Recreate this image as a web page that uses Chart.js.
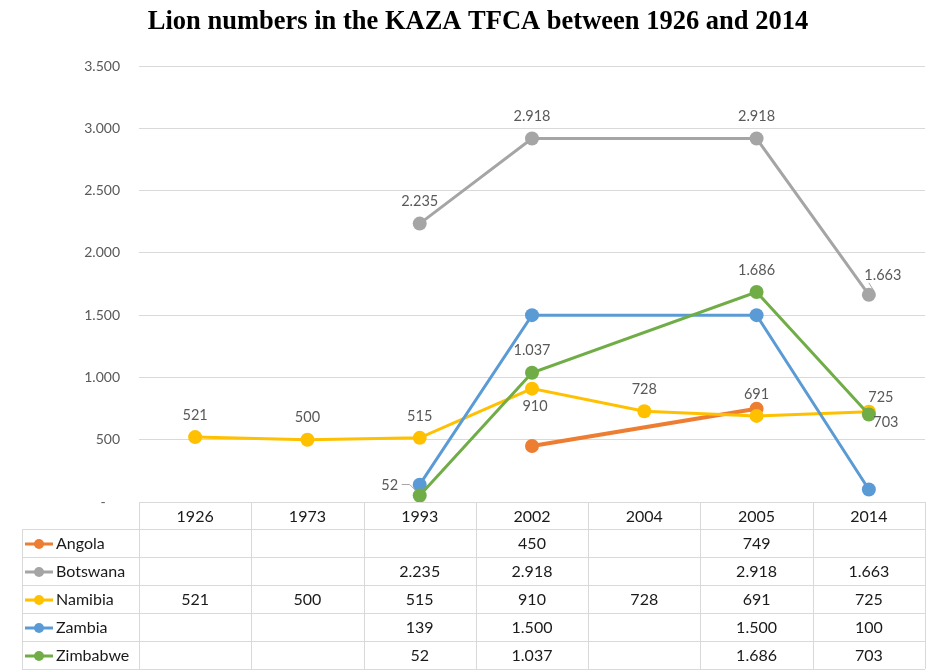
<!DOCTYPE html>
<html>
<head>
<meta charset="utf-8">
<script src="https://cdn.jsdelivr.net/npm/chart.js@4/dist/chart.umd.min.js"></script>
<style>
  html, body { margin: 0; padding: 0; background: #fff; }
  #wrap { width: 928px; height: 670px; }
</style>
</head>
<body>
<div id="wrap"><canvas id="chart" width="928" height="670"></canvas></div>
<script>
  // data
  const years = ["1926", "1973", "1993", "2002", "2004", "2005", "2014"];
  const angola = [null, null, null, 450, null, 749, null];
  const botswana = [null, null, 2235, 2918, null, 2918, 1663];
  const namibia = [521, 500, 515, 910, 728, 691, 725];
  const zambia = [null, null, 139, 1500, null, 1500, 100];
  const zimbabwe = [null, null, 52, 1037, null, 1686, 703];
  const yTicks = [0, 500, 1000, 1500, 2000, 2500, 3000, 3500];

  // where each point label sits relative to its marker: [dx, dy, leaderLine]
  const labelSpots = {
    Botswana: [null, null, [0, -22], [0, -22], null, [0, -22], [14, -20, true]],
    Namibia: [[0, -22], [0, -22], [0, -22], [3, 18], [0, -22], [0, -22], [12, -14]],
    Zimbabwe: [null, null, [-30, -10, true], [0, -22], null, [0, -22], [17, 8]],
  };

  const fontFam = "Lato, 'Open Sans', sans-serif";
  const grey = "#595959";

  function fmt(v) {
    if (v === null || v === undefined) return "";
    return String(v).replace(/\B(?=(\d{3})+(?!\d))/g, ".");
  }

  function series(label, data, color, order, width) {
    return {
      label,
      data,
      borderColor: color,
      backgroundColor: color,
      pointBackgroundColor: color,
      pointBorderColor: color,
      borderWidth: width || 3,
      pointRadius: 7,
      pointHoverRadius: 7,
      pointBorderWidth: 0,
      spanGaps: true,
      tension: 0,
      order,
    };
  }

  const pointLabels = {
    id: "pointLabels",
    afterDatasetsDraw(chart) {
      const ctx = chart.ctx;
      ctx.save();
      ctx.font = "14.5px " + fontFam;
      ctx.fillStyle = grey;
      ctx.textAlign = "center";
      ctx.textBaseline = "middle";
      chart.data.datasets.forEach((ds, di) => {
        const spots = labelSpots[ds.label];
        if (!spots) return;
        const meta = chart.getDatasetMeta(di);
        spots.forEach((s, i) => {
          if (!s || ds.data[i] === null) return;
          const pt = meta.data[i];
          const tx = pt.x + s[0];
          const ty = pt.y + s[1];
          ctx.fillText(fmt(ds.data[i]), tx, ty);
          if (s[2]) {
            ctx.strokeStyle = "#a6a6a6";
            ctx.lineWidth = 1;
            ctx.beginPath();
            if (s[0] < 0) {
              ctx.moveTo(tx + 12, ty - 1);
              ctx.lineTo(tx + 20, ty - 1);
              ctx.lineTo(pt.x - 4, pt.y - 5);
            } else {
              ctx.moveTo(tx - 14, ty + 8);
              ctx.lineTo(pt.x + 5, pt.y - 4);
            }
            ctx.stroke();
          }
        });
      });
      ctx.restore();
    },
  };

  const dataTable = {
    id: "dataTable",
    afterDraw(chart) {
      const ctx = chart.ctx;
      const xs = chart.scales.x;
      const area = chart.chartArea;
      const colW = (area.right - area.left) / years.length;
      const top = area.bottom;
      const headH = 27;
      const rowH = 28;
      const labelLeft = 22;
      const rows = [
        ["Angola", angola, "#ED7D31"],
        ["Botswana", botswana, "#A5A5A5"],
        ["Namibia", namibia, "#FFC000"],
        ["Zambia", zambia, "#5B9BD5"],
        ["Zimbabwe", zimbabwe, "#70AD47"],
      ];
      const bottom = top + headH + rowH * rows.length;

      ctx.save();
      ctx.strokeStyle = "#D9D9D9";
      ctx.lineWidth = 1;
      ctx.beginPath();
      // vertical lines of the year columns
      for (let i = 0; i <= years.length; i++) {
        const x = Math.round(area.left + colW * i) + 0.5;
        ctx.moveTo(x, top);
        ctx.lineTo(x, bottom);
      }
      // left edge of the series label column
      ctx.moveTo(labelLeft + 0.5, top + headH);
      ctx.lineTo(labelLeft + 0.5, bottom);
      // header bottom and row lines
      for (let r = 0; r <= rows.length; r++) {
        const y = Math.round(top + headH + rowH * r) + 0.5;
        ctx.moveTo(labelLeft, y);
        ctx.lineTo(area.right, y);
      }
      ctx.stroke();

      ctx.fillStyle = "#1a1a1a";
      ctx.font = "16px " + fontFam;
      ctx.textAlign = "center";
      ctx.textBaseline = "middle";
      years.forEach((yr, i) => {
        ctx.fillText(yr, xs.getPixelForValue(i), top + headH / 2 + 1);
      });

      rows.forEach((row, r) => {
        const cy = top + headH + rowH * r + rowH / 2 + 1;
        // legend key
        ctx.strokeStyle = row[2];
        ctx.lineWidth = 3;
        ctx.beginPath();
        ctx.moveTo(25, cy);
        ctx.lineTo(53, cy);
        ctx.stroke();
        ctx.fillStyle = row[2];
        ctx.beginPath();
        ctx.arc(39, cy, 5, 0, Math.PI * 2);
        ctx.fill();

        ctx.fillStyle = "#1a1a1a";
        ctx.textAlign = "left";
        ctx.fillText(row[0], 56, cy);
        ctx.textAlign = "center";
        row[1].forEach((v, i) => {
          if (v === null) return;
          ctx.fillText(fmt(v), xs.getPixelForValue(i), cy);
        });
      });
      ctx.restore();
    },
  };

  new Chart(document.getElementById("chart").getContext("2d"), {
    type: "line",
    data: {
      labels: years,
      datasets: [
        series("Angola", angola, "#ED7D31", 4, 4),
        series("Botswana", botswana, "#A5A5A5", 3),
        series("Namibia", namibia, "#FFC000", 2),
        series("Zambia", zambia, "#5B9BD5", 1),
        series("Zimbabwe", zimbabwe, "#70AD47", 0),
      ],
    },
    options: {
      responsive: false,
      animation: false,
      events: [],
      layout: { autoPadding: false, padding: { left: 31, right: 3, top: 0, bottom: 168 } },
      plugins: {
        legend: { display: false },
        tooltip: { enabled: false },
        title: {
          display: true,
          text: "Lion numbers in the KAZA TFCA between 1926 and 2014",
          color: "#000",
          font: { family: "'Liberation Serif', 'Times New Roman', serif", size: 26.5, weight: "bold", lineHeight: 1.2 },
          padding: { top: 6, bottom: 28.2 },
        },
      },
      scales: {
        x: {
          display: false,
          offset: true,
        },
        y: {
          min: 0,
          max: 3500,
          afterFit(scale) {
            scale.width = 108;
          },
          afterBuildTicks(scale) {
            scale.ticks = yTicks.map((v) => ({ value: v }));
          },
          border: { display: false },
          grid: { color: "#D9D9D9", lineWidth: 1, drawTicks: false },
          ticks: {
            padding: 19,
            color: grey,
            font: { family: fontFam, size: 14 },
            callback: (v) => (v === 0 ? "-    " : fmt(v)),
          },
        },
      },
    },
    plugins: [pointLabels, dataTable],
  });
</script>
</body>
</html>
